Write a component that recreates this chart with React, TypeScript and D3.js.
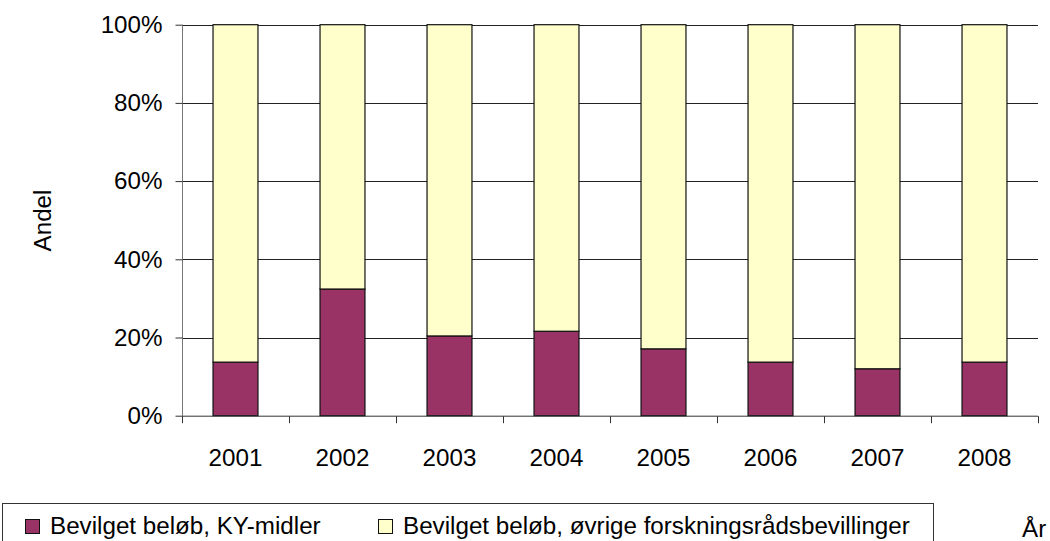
import React, { useEffect, useRef } from 'react'
import * as d3 from 'd3'

const years = ['2001', '2002', '2003', '2004', '2005', '2006', '2007', '2008']
const kyShare = [13.7, 32.4, 20.4, 21.6, 17.1, 13.7, 12.0, 13.7]
const seriesNames = ['Bevilget beløb, KY-midler', 'Bevilget beløb, øvrige forskningsrådsbevillinger']
const yTicks = [0, 20, 40, 60, 80, 100]

const colors = ['#993366', '#FFFFCC']

export default function App() {
    const ref = useRef<SVGSVGElement>(null)

    useEffect(() => {
        const svg = d3.select(ref.current)
        svg.selectAll('*').remove()

        const left = 182, right = 1038, top = 24.7, bottom = 415.7
        const font = 'Liberation Sans, Arial, sans-serif'
        const fs = 24.2

        const x = d3.scaleBand().domain(years).range([left, right]).padding(0)
        const y = d3.scaleLinear().domain([0, 100]).range([bottom, top])
        const barW = x.bandwidth() * 0.42

        // gridlines
        svg.append('g').selectAll('line').data(yTicks.filter(d => d > 0)).enter().append('line')
            .attr('x1', left).attr('x2', right)
            .attr('y1', d => Math.round(y(d)) + 0.5).attr('y2', d => Math.round(y(d)) + 0.5)
            .attr('stroke', '#222').attr('stroke-width', 1)

        // stacked data
        const rows = years.map((yr, i) => ({ year: yr, ky: kyShare[i], other: 100 - kyShare[i] }))
        const stack = d3.stack<any>().keys(['ky', 'other'])(rows)

        const layers = svg.append('g').selectAll('g').data(stack).enter().append('g')
            .attr('fill', (d, i) => colors[i])
        layers.selectAll('rect').data(d => d).enter().append('rect')
            .attr('x', d => (x(d.data.year) || 0) + (x.bandwidth() - barW) / 2)
            .attr('width', barW)
            .attr('y', d => y(d[1]))
            .attr('height', d => y(d[0]) - y(d[1]))
            .attr('stroke', '#111')
            .attr('stroke-width', 1.2)

        // y axis
        const yAxis = svg.append('g').attr('transform', `translate(${left + 0.5},0)`)
            .call(d3.axisLeft(y).tickValues(yTicks).tickSize(7).tickPadding(13).tickFormat(d => d + '%'))
        yAxis.select('.domain').attr('stroke', '#777').attr('d', `M0,${top}V${bottom}`)
        yAxis.selectAll('.tick line').attr('stroke', '#333')
        yAxis.selectAll('text').attr('font-family', font).attr('font-size', fs).attr('fill', '#000')

        // x axis with ticks at band edges
        const xAxis = svg.append('g').attr('transform', `translate(0,${bottom + 0.5})`)
        xAxis.append('line').attr('x1', left).attr('x2', right).attr('stroke', '#333')
        const edges = years.map(yr => x(yr) || 0).concat([right])
        xAxis.selectAll('.edge').data(edges).enter().append('line')
            .attr('x1', d => Math.round(d) + 0.5).attr('x2', d => Math.round(d) + 0.5)
            .attr('y1', 0).attr('y2', 7).attr('stroke', '#333')
        xAxis.selectAll('text').data(years).enter().append('text')
            .attr('x', d => (x(d) || 0) + x.bandwidth() / 2)
            .attr('y', 50)
            .attr('text-anchor', 'middle')
            .attr('font-family', font).attr('font-size', fs)
            .text(d => d)

        // axis titles
        svg.append('text')
            .attr('transform', 'translate(51,220.5) rotate(-90)')
            .attr('text-anchor', 'middle')
            .attr('font-family', font).attr('font-size', fs)
            .text('Andel')
        svg.append('text')
            .attr('x', 1022).attr('y', 537)
            .attr('font-family', font).attr('font-size', fs)
            .text('År')

        // legend
        const legend = svg.append('g')
        legend.append('rect')
            .attr('x', 2.5).attr('y', 503.5).attr('width', 931).attr('height', 50)
            .attr('fill', '#fff').attr('stroke', '#333')
        const itemX = [25, 378]
        const item = legend.selectAll('.item').data(seriesNames).enter().append('g')
            .attr('transform', (d, i) => `translate(${itemX[i]},0)`)
        item.append('rect')
            .attr('x', 0.5).attr('y', 519.5).attr('width', 14).attr('height', 14)
            .attr('fill', (d, i) => colors[i]).attr('stroke', '#111')
        item.append('text')
            .attr('x', 25).attr('y', 534)
            .attr('font-family', font).attr('font-size', fs)
            .text(d => d)
    }, [])

    return (
        <svg ref={ref} width={1050} height={541}
             style={{ position: 'absolute', left: 0, top: 0, background: '#fff' }} />
    )
}
